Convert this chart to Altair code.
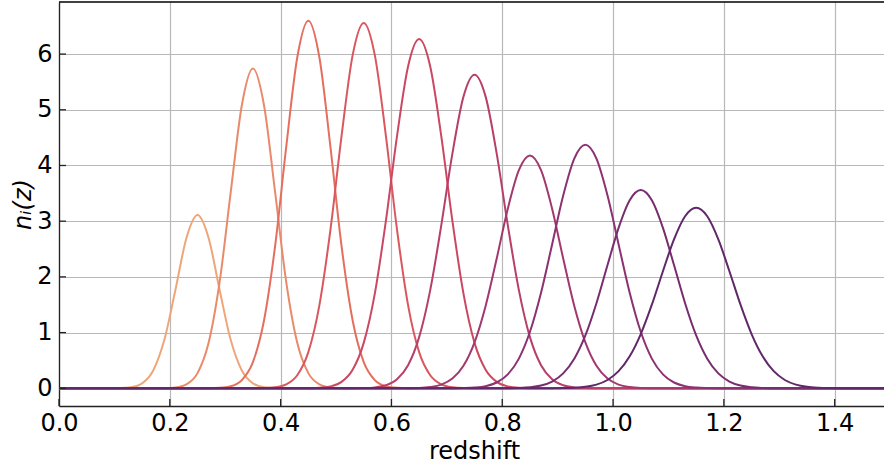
import altair as alt
import pandas as pd

# Bin centres (redshift) of the ten tomographic bins
CENTERS = [0.25, 0.35, 0.45, 0.55, 0.65, 0.75, 0.85, 0.95, 1.05, 1.15]

# Sampling offsets around each bin centre
OFFSETS = [-0.26, -0.24, -0.22, -0.20, -0.18, -0.16, -0.14, -0.12, -0.10, -0.08,
           -0.06, -0.04, -0.02, 0.0, 0.02, 0.04, 0.06, 0.08, 0.10, 0.12,
           0.14, 0.16, 0.18, 0.20, 0.22, 0.24, 0.26]

# n_i(z) values at CENTER + OFFSET
N01 = [0, 0, 0, 0, 0, 0, 0.003, 0.019, 0.089, 0.319, 0.865, 1.761, 2.698, 3.11,
       2.698, 1.761, 0.865, 0.319, 0.089, 0.019, 0.003, 0, 0, 0, 0, 0, 0]
N02 = [0, 0, 0, 0, 0, 0.002, 0.015, 0.071, 0.272, 0.816, 1.915, 3.524, 5.081, 5.74,
       5.081, 3.524, 1.915, 0.816, 0.272, 0.071, 0.015, 0.002, 0, 0, 0, 0, 0]
N03 = [0, 0, 0, 0, 0.001, 0.008, 0.037, 0.147, 0.470, 1.217, 2.550, 4.324, 5.938, 6.60,
       5.938, 4.324, 2.550, 1.217, 0.470, 0.147, 0.037, 0.008, 0.001, 0, 0, 0, 0]
N04 = [0, 0, 0, 0.001, 0.004, 0.018, 0.071, 0.235, 0.650, 1.494, 2.854, 4.531, 5.981, 6.56,
       5.981, 4.531, 2.854, 1.494, 0.650, 0.235, 0.071, 0.018, 0.004, 0.001, 0, 0, 0]
N05 = [0, 0, 0, 0.002, 0.008, 0.034, 0.115, 0.332, 0.815, 1.699, 3.008, 4.523, 5.778, 6.27,
       5.778, 4.523, 3.008, 1.699, 0.815, 0.332, 0.115, 0.034, 0.008, 0.002, 0, 0, 0]
N06 = [0, 0, 0.001, 0.004, 0.016, 0.054, 0.161, 0.413, 0.918, 1.763, 2.930, 4.212, 5.236, 5.63,
       5.236, 4.212, 2.930, 1.763, 0.918, 0.413, 0.161, 0.054, 0.016, 0.004, 0.001, 0, 0]
N07 = [0, 0, 0.002, 0.006, 0.022, 0.066, 0.174, 0.404, 0.825, 1.479, 2.330, 3.224, 3.917, 4.18,
       3.917, 3.224, 2.330, 1.479, 0.825, 0.404, 0.174, 0.066, 0.022, 0.006, 0.002, 0, 0]
N08 = [0, 0.001, 0.004, 0.013, 0.038, 0.104, 0.249, 0.533, 1.014, 1.716, 2.583, 3.459, 4.122, 4.37,
       4.122, 3.459, 2.583, 1.716, 1.014, 0.533, 0.249, 0.104, 0.038, 0.013, 0.004, 0.001, 0]
N09 = [0, 0.002, 0.006, 0.018, 0.049, 0.121, 0.267, 0.531, 0.949, 1.528, 2.212, 2.881, 3.377, 3.56,
       3.377, 2.881, 2.212, 1.528, 0.949, 0.531, 0.267, 0.121, 0.049, 0.018, 0.006, 0.002, 0]
N10 = [0.001, 0.003, 0.010, 0.027, 0.066, 0.149, 0.307, 0.574, 0.974, 1.501, 2.102, 2.673, 3.088, 3.24,
       3.088, 2.673, 2.102, 1.501, 0.974, 0.574, 0.307, 0.149, 0.066, 0.027, 0.010, 0.003, 0.001]

SERIES = [N01, N02, N03, N04, N05, N06, N07, N08, N09, N10]
BIN_NAMES = ["bin 01", "bin 02", "bin 03", "bin 04", "bin 05",
             "bin 06", "bin 07", "bin 08", "bin 09", "bin 10"]
COLORS = ["#eea679", "#e98a6a", "#e46f5e", "#d9585f", "#cb4863",
          "#b73f6a", "#a2386e", "#8c3271", "#772d6e", "#60286a"]

# redshift range covered by every n_i(z) (zero outside the bin)
Z_RANGE = [0.0, 1.489]
X_TICKS = [0.0, 0.2, 0.4, 0.6, 0.8, 1.0, 1.2, 1.4]
Y_TICKS = [0, 1, 2, 3, 4, 5, 6]
Y_DOMAIN = [-0.318, 6.935]

rows = []
for name, c, vals in zip(BIN_NAMES, CENTERS, SERIES):
    pts = {}
    for z in Z_RANGE:
        pts[z] = 0.0
    for off, v in zip(OFFSETS, vals):
        pts[round(c + off, 3)] = v
    for z in sorted(pts):
        rows.append({"bin": name, "z": z, "n": pts[z]})
df = pd.DataFrame(rows)

W, H = 825, 404
FONT = "DejaVu Sans"
FS = 24
xscale = alt.Scale(domain=Z_RANGE, nice=False, zero=False)
yscale = alt.Scale(domain=Y_DOMAIN, nice=False, zero=False)

xaxis = alt.Axis(values=X_TICKS, format=".1f", title="redshift",
                 labelFlush=False, labelBaseline="alphabetic", labelPadding=24,
                 ticks=False, tickSize=0,
                 titleX=415, titleY=52, titleBaseline="alphabetic", titleAlign="center")
yaxis = alt.Axis(values=Y_TICKS, format="d", title="nᵢ(z)",
                 ticks=False, tickSize=0, labelPadding=7,
                 titleFontStyle="italic", titleX=-29, titleY=202,
                 titleAngle=270, titleBaseline="alphabetic", titleAlign="center")

lines = alt.Chart(df).mark_line(strokeWidth=2, interpolate="monotone", clip=True).encode(
    x=alt.X("z:Q", scale=xscale, axis=xaxis),
    y=alt.Y("n:Q", scale=yscale, axis=yaxis),
    color=alt.Color("bin:N", scale=alt.Scale(domain=BIN_NAMES, range=COLORS), legend=None),
    detail="bin:N",
)

xt = alt.Chart(pd.DataFrame({"z": X_TICKS})).mark_rule(color="#222222", strokeWidth=1.3).encode(
    x=alt.X("z:Q", scale=xscale, axis=xaxis),
    y=alt.value(H), y2=alt.value(H - 7),
)
yt = alt.Chart(pd.DataFrame({"n": Y_TICKS})).mark_rule(color="#222222", strokeWidth=1.3).encode(
    y=alt.Y("n:Q", scale=yscale, axis=yaxis),
    x=alt.value(0), x2=alt.value(7),
)
top = alt.Chart(pd.DataFrame({"a": [0]})).mark_rule(color="black", strokeWidth=1.3).encode(
    x=alt.value(0), x2=alt.value(W), y=alt.value(0),
)

chart = alt.layer(lines, xt, yt, top).properties(
    width=W, height=H,
    autosize=alt.AutoSizeParams(type="none"),
    padding={"left": 59, "top": 2, "right": 0, "bottom": 61},
).configure_view(strokeWidth=0).configure_axis(
    labelFont=FONT, labelFontSize=FS, labelColor="black",
    titleFont=FONT, titleFontSize=FS, titleColor="black", titleFontWeight="normal",
    domainColor="#222222", domainWidth=1.3,
    grid=True, gridColor="#b8b8b8", gridWidth=1.2,
)

chart.save("out.html", embed_options={"renderer": "svg", "actions": False})
